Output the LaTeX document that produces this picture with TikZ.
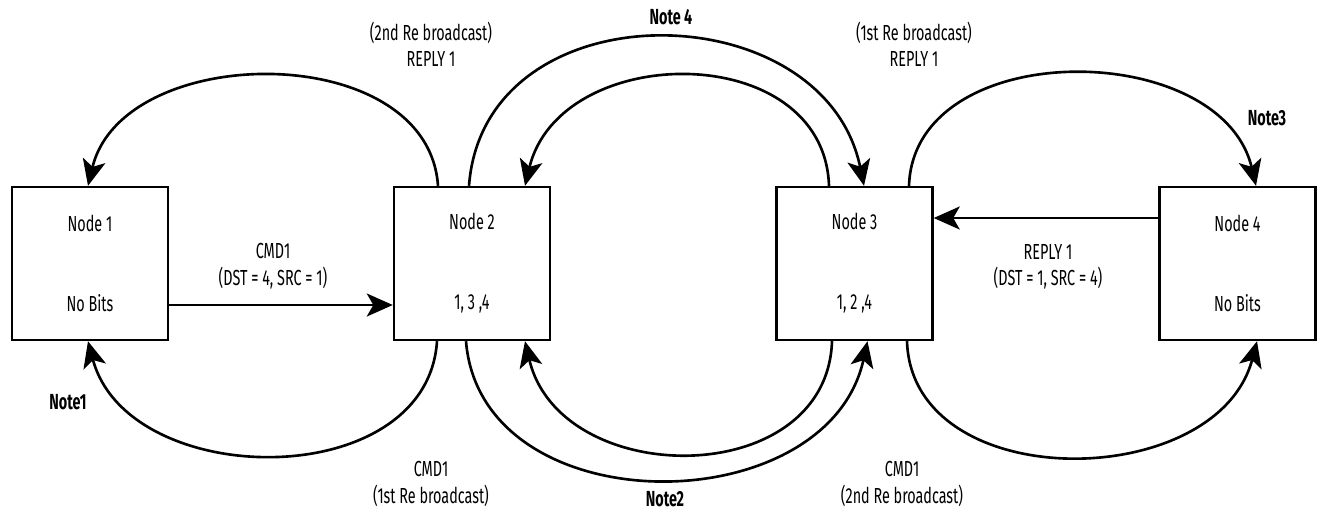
\documentclass[tikz,border=0pt]{standalone}
\usepackage{fontspec}
\setmainfont{Fira Sans}[FakeStretch=0.66]
\usepackage{tikz}
\usetikzlibrary{arrows.meta,calc}

\begin{document}
\begin{tikzpicture}[x=0.02cm, y=-0.02cm, font=\fontsize{12.4}{15}\selectfont,
  station/.style={draw, line width=1.4pt, minimum width=3.12cm, minimum height=3.06cm, align=center, inner sep=0pt},
  lien/.style={line width=1.5pt, -{Stealth[length=0.52cm, width=0.46cm, inset=0.13cm]}},
  etiq/.style={align=center},
  note/.style={font=\fontsize{12.4}{15}\selectfont\bfseries, inner sep=1pt}]
  \useasboundingbox (0,0) rectangle (1318,511);
  % les quatre noeuds
  \node[station] (n1) at (90,263.5) {Node 1\\[1.07cm]No Bits};
  \node[station] (n2) at (472,263.5) {Node 2\\[1.07cm]1, 3 ,4};
  \node[station] (n3) at (854.5,263.5) {Node 3\\[1.07cm]1, 2 ,4};
  \node[station] (n4) at (1237.5,263.5) {Node 4\\[1.07cm]No Bits};
  % messages directs
  \draw[lien] ($(n1.east)+(0,41.5)$) -- ($(n2.west)+(0,41.5)$);
  \node[etiq] (cmd) at (273,266) {CMD1\\(DST = 4, SRC = 1)};
  \draw[lien] ($(n4.west)+(0,-45.5)$) -- ($(n3.east)+(0,-45.5)$);
  \node[etiq] (rep) at (1048,266.5) {REPLY 1\\(DST = 1, SRC = 4)};
  % re-diffusions par le haut
  \draw[lien] ($(n2.north)+(-34,0)$) .. controls +(-10,-147) and +(35,-145) .. ($(n1.north)+(-2,0)$);
  \draw[lien] ($(n3.north)+(-25.5,0)$) .. controls +(-5,-147) and +(35,-145) .. ($(n2.north)+(53,0)$);
  \draw[lien] ($(n2.north)+(-3,0)$) .. controls +(15,-200) and +(-40,-195) .. ($(n3.north)+(9.5,0)$);
  \draw[lien] ($(n3.north)+(54.5,0)$) .. controls +(5,-150) and +(-35,-148) .. ($(n4.north)+(18.5,0)$);
  % re-diffusions par le bas
  \draw[lien] ($(n2.south)+(-35,0)$) .. controls +(-10,153) and +(40,150) .. ($(n1.south)+(-2,0)$);
  \draw[lien] ($(n3.south)+(-22.5,0)$) .. controls +(-5,150) and +(35,149) .. ($(n2.south)+(53,0)$);
  \draw[lien] ($(n2.south)+(-6,0)$) .. controls +(15,185) and +(-40,183) .. ($(n3.south)+(13,0)$);
  \draw[lien] ($(n3.south)+(52.5,0)$) .. controls +(5,155) and +(-40,152) .. ($(n4.south)+(19.5,0)$);
  % etiquettes
  \node[etiq] (rb2) at (431,44.5) {(2nd Re broadcast)\\REPLY 1};
  \node[etiq] (rb1) at (914,44.5) {(1st Re broadcast)\\REPLY 1};
  \node[etiq] (cb1) at (431,484) {CMD1\\(1st Re broadcast)};
  \node[etiq] (cb2) at (902,484) {CMD1\\(2nd Re broadcast)};
  \node[note] (note1) at (68,402) {Note1};
  \node[note] (note2) at (665,499) {Note2};
  \node[note] (note3) at (1267,118) {Note3};
  \node[note] (note4) at (671,17) {Note 4};
\end{tikzpicture}
\end{document}
